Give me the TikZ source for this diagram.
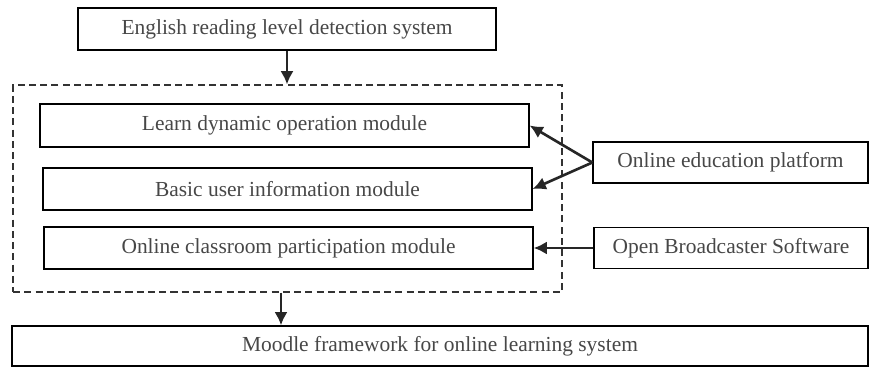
\documentclass[tikz,border=0pt]{standalone}
\usepackage{fontspec}
\setmainfont{Liberation Serif}
\usepackage{tikz}
\usetikzlibrary{arrows.meta}
\colorlet{txt}{black!72}

\begin{document}
\begin{tikzpicture}[
        x=0.02cm, y=-0.02cm,
        box/.style={draw, line width=0.8pt, inner sep=0pt, text=txt, font=\fontsize{12.2}{14}\selectfont},
        arr/.style={-{Latex[length=7.5pt,width=7.5pt]}, line width=1.5pt, black!85}
    ]
    \useasboundingbox (0,0) rectangle (870,368);

    \node [box, minimum width=8.36cm, minimum height=0.84cm] (top) at (287,29) {English reading level detection system};

    \node [draw, dash pattern=on 4pt off 2.4pt, line width=0.7pt, black!80, minimum width=10.98cm, minimum height=4.14cm] (group) at (287.5,188.5) {};
    \node [box, minimum width=9.78cm, minimum height=0.86cm] (learn) at (284.5,125.5) {Learn dynamic operation module};
    \node [box, minimum width=9.78cm, minimum height=0.84cm] (basic) at (287.5,189) {Basic user information module};
    \node [box, minimum width=9.78cm, minimum height=0.84cm] (classroom) at (288.5,248) {Online classroom participation module};

    \node [box, minimum width=5.5cm, minimum height=0.82cm] (oep) at (730.5,162.5) {Online education platform};
    \node [box, minimum width=5.48cm, minimum height=0.82cm] (obs) at (731,248) {Open Broadcaster Software};

    \node [box, minimum width=17.12cm, minimum height=0.8cm] (moodle) at (440,346) {Moodle framework for online learning system};

    \draw [arr] (top.south) -- (top.south |- group.north);
    \draw [arr] (oep.west) -- (learn.east);
    \draw [arr] (oep.west) -- (basic.east);
    \draw [arr] (obs.west) -- (classroom.east);
    \draw [arr] ([xshift=-0.13cm]group.south) -- ([xshift=-0.13cm]group.south |- moodle.north);
\end{tikzpicture}
\end{document}
